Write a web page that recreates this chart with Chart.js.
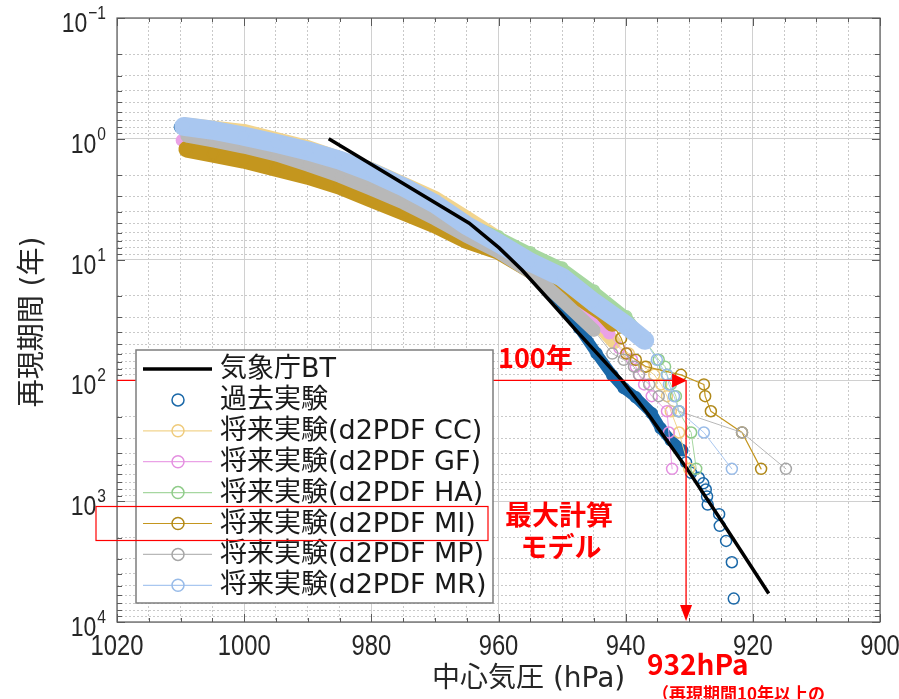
<!DOCTYPE html>
<html lang="ja">
<head>
<meta charset="utf-8">
<title>中心気圧と再現期間</title>
<script src="https://cdn.jsdelivr.net/npm/chart.js@4.4.1/dist/chart.umd.min.js"></script>
<style>
	html, body { margin: 0; padding: 0; background: #ffffff; }
	canvas { display: block; }
</style>
</head>
<body>
<canvas id="returnChart" width="899" height="699"></canvas>
<script>
// 気象庁BT (fitted curve)
const btPressure = [986.7, 964.6, 959.9, 956.3, 952.0, 947.8, 944.2, 940.6, 936.3, 930.5, 925.3, 917.5];
const btPeriod = [1.0, 5.0, 8.0, 12.2, 21.7, 38.5, 62, 100, 195, 525, 1360, 5800];

// 過去実験
const pastPressure = [1010.1, 1004.9, 1000.1, 995.0, 990.0, 985.0, 980.0, 974.9, 969.9, 965.1, 960.0, 955.0, 950.0, 947.3, 944.6, 942.1, 940.3, 938.4, 935.9, 934.5, 932.9, 931.1, 930.5, 929.7, 928.5, 927.8, 927.4, 927.2, 927.1, 925.3, 925.2, 924.2, 923.3, 923.0];
const pastPeriod = [0.80, 0.91, 1.04, 1.19, 1.42, 1.72, 2.16, 2.87, 3.97, 5.71, 8.36, 12.7, 23.0, 37.0, 59.6, 90.7, 116, 138, 187, 249, 313, 379, 477, 582, 640, 711, 800, 914, 1067, 1280, 1600, 2133, 3200, 6400];

// 将来実験 d2PDF
const ccPressure = [1009.3, 1000.1, 990.0, 980.0, 969.9, 965.1, 960.0, 955.0, 950.0, 946.5, 944.2, 941.8, 939.5, 937.1, 935.5, 934.4, 933.5, 932.9, 931.6, 930.0];
const ccPeriod = [0.76, 0.86, 1.17, 1.78, 3.10, 4.45, 6.65, 10.1, 17.9, 26.2, 35.0, 48.3, 60, 77, 90, 108, 135, 180, 270, 540];

const gfPressure = [1009.8, 1004.9, 1000.1, 990.0, 980.0, 969.9, 965.1, 960.0, 955.0, 950.0, 945.7, 942.6, 941.0, 939.9, 939.0, 938.4, 937.9, 937.1, 935.9, 933.5, 933.2, 932.7];
const gfPeriod = [1.03, 1.15, 1.29, 1.82, 2.82, 4.72, 6.40, 8.36, 12.2, 17.9, 27.8, 40.7, 54, 60, 67.5, 77, 90, 108, 135, 180, 270, 540];

const haPressure = [1009.0, 1000.1, 990.0, 980.0, 969.9, 965.1, 960.0, 955.0, 950.0, 945.0, 939.9, 937.0, 934.8, 933.8, 933.5, 932.9, 932.1, 931.7, 929.7, 928.9];
const haPeriod = [0.90, 1.04, 1.39, 2.12, 3.54, 4.90, 6.40, 8.69, 11.6, 18.0, 29.5, 46.6, 67.5, 77, 90, 108, 135, 180, 270, 540];

const miPressure = [1009.0, 1004.9, 1000.1, 995.0, 990.0, 985.0, 980.0, 974.9, 969.9, 965.1, 960.0, 955.0, 950.0, 946.8, 943.7, 942.1, 940.7, 939.9, 938.4, 936.8, 931.3, 927.7, 927.5, 926.6, 921.7, 918.7];
const miPeriod = [1.22, 1.34, 1.50, 1.75, 2.04, 2.47, 3.16, 4.05, 5.19, 6.91, 8.52, 12.2, 17.9, 21.3, 27.3, 33.7, 44.8, 60, 67.5, 77, 90, 108, 135, 180, 270, 540];

const mpPressure = [1009.0, 1004.9, 1000.1, 995.0, 990.0, 985.0, 980.0, 974.9, 969.9, 965.1, 960.0, 955.0, 950.0, 945.0, 942.1, 940.3, 938.7, 937.9, 936.3, 934.8, 931.6, 921.7, 914.8];
const mpPeriod = [0.95, 1.04, 1.17, 1.36, 1.65, 2.04, 2.61, 3.41, 4.63, 6.40, 8.69, 12.7, 21.7, 38.5, 60, 67.5, 77, 90, 108, 135, 180, 270, 540];

const mrPressure = [1009.5, 1004.9, 1000.1, 995.0, 990.0, 985.0, 980.0, 974.9, 969.9, 965.1, 960.0, 955.0, 950.0, 945.0, 939.9, 937.0, 935.1, 933.5, 933.2, 932.4, 931.6, 927.7, 923.3];
const mrPeriod = [0.79, 0.85, 0.95, 1.09, 1.26, 1.50, 1.89, 2.51, 3.48, 5.19, 7.31, 10.5, 14.0, 22.6, 35.0, 46.6, 67.5, 90, 108, 135, 180, 270, 540];

const seriesLabels = ["気象庁BT", "過去実験", "将来実験(d2PDF CC)", "将来実験(d2PDF GF)", "将来実験(d2PDF HA)", "将来実験(d2PDF MI)", "将来実験(d2PDF MP)", "将来実験(d2PDF MR)"];
const pressureTicks = [1020, 1000, 980, 960, 940, 920, 900];
const periodExponents = [-1, 0, 1, 2, 3, 4];

// red guide: 100-year level read down to the pressure axis
const markPeriod = 100;
const markPressure = 930.5;

const JP_FONT = '"DejaVu Sans", "Noto Sans CJK JP", sans-serif';
const NUM_FONT = '"Liberation Sans", Arial, sans-serif';
const RED = "#ff0000";
const AXIS_TEXT = "#262626";

const styles = {
	bt: { color: "#000000", width: 3.5 },
	past: { color: "#1a68a8", marker: "#1a68a8", bandMax: 400, bandWidth: 11, lineWidth: 0 },
	cc: { color: "#f2d48e", marker: "#efcb7c", bandMax: 50, bandWidth: 14, lineWidth: 1 },
	gf: { color: "#eaa2e6", marker: "#e48fe0", bandMax: 50, bandWidth: 11, lineWidth: 1 },
	ha: { color: "#a6d7a0", marker: "#90cc8a", bandMax: 50, bandWidth: 10, lineWidth: 1 },
	mi: { color: "#c4961e", marker: "#b08818", bandMax: 35, bandWidth: 17, lineWidth: 1.2 },
	mp: { color: "#b8b8b8", marker: "#a6a6a6", bandMax: 40, bandWidth: 13, lineWidth: 1 },
	mr: { color: "#a9c7f0", marker: "#98bbe8", bandMax: 50, bandWidth: 19, lineWidth: 1 }
};
const legendKeys = ["bt", "past", "cc", "gf", "ha", "mi", "mp", "mr"];

function toPoints(pressures, periods) {
	return pressures.map(function (p, i) {
		return { x: p, y: periods[i] };
	});
}

// dense part of each series is drawn as a wide stroke, the sparse tail as a thin line
function bandSegment(style) {
	return {
		borderWidth: function (ctx) {
			return ctx.p1.parsed.y <= style.bandMax ? style.bandWidth : Math.max(style.lineWidth, 1);
		},
		borderColor: function (ctx) {
			if (ctx.p1.parsed.y <= style.bandMax) {
				return style.color;
			}
			return style.lineWidth > 0 ? style.color : "rgba(0,0,0,0)";
		}
	};
}

function seriesDataset(label, pressures, periods, style, order) {
	return {
		label: label,
		data: toPoints(pressures, periods),
		borderColor: style.color,
		borderWidth: 1,
		borderCapStyle: "round",
		borderJoinStyle: "round",
		segment: bandSegment(style),
		pointRadius: 5.5,
		pointBorderWidth: 1.5,
		pointBorderColor: function (ctx) {
			return ctx.raw && ctx.raw.y <= style.bandMax ? style.color : style.marker;
		},
		pointBackgroundColor: "rgba(0,0,0,0)",
		tension: 0,
		order: order
	};
}

function isDecade(value) {
	const e = Math.log10(value);
	return Math.abs(e - Math.round(e)) < 1e-9;
}

function periodGridValues() {
	const values = [];
	const first = periodExponents[0];
	const last = periodExponents[periodExponents.length - 1];
	for (let e = first; e < last; e++) {
		for (let d = 1; d <= 9; d++) {
			values.push(Number((d * Math.pow(10, e)).toPrecision(4)));
		}
	}
	values.push(Math.pow(10, last));
	return values;
}

// numbers in the reference use a narrow face; squeeze a regular face horizontally
function narrowText(ctx, text, x, y, size, align) {
	const squeeze = 0.82;
	ctx.save();
	ctx.font = size + "px " + NUM_FONT;
	ctx.textBaseline = "alphabetic";
	ctx.textAlign = align;
	ctx.translate(x, y);
	ctx.scale(squeeze, 1);
	ctx.fillText(text, 0, 0);
	const width = ctx.measureText(text).width * squeeze;
	ctx.restore();
	return width;
}

function drawFrame(chart) {
	const ctx = chart.ctx;
	const area = chart.chartArea;
	const xScale = chart.scales.x;
	const yScale = chart.scales.y;

	ctx.save();
	ctx.strokeStyle = "#5a5a5a";
	ctx.lineWidth = 1;
	ctx.beginPath();
	yScale.ticks.forEach(function (tick) {
		const y = Math.round(yScale.getPixelForValue(tick.value)) + 0.5;
		const len = isDecade(tick.value) ? 8 : 5;
		ctx.moveTo(area.left, y);
		ctx.lineTo(area.left + len, y);
		ctx.moveTo(area.right, y);
		ctx.lineTo(area.right - len, y);
	});
	xScale.ticks.forEach(function (tick) {
		const x = Math.round(xScale.getPixelForValue(tick.value)) + 0.5;
		const len = tick.value % 20 === 0 ? 8 : 4;
		ctx.moveTo(x, area.bottom);
		ctx.lineTo(x, area.bottom - len);
		ctx.moveTo(x, area.top);
		ctx.lineTo(x, area.top + len);
	});
	ctx.stroke();
	ctx.lineWidth = 1.2;
	ctx.strokeRect(area.left, area.top, area.right - area.left, area.bottom - area.top);
	ctx.restore();
}

function drawTickLabels(chart) {
	const ctx = chart.ctx;
	const area = chart.chartArea;
	const xScale = chart.scales.x;
	const yScale = chart.scales.y;

	ctx.save();
	ctx.fillStyle = AXIS_TEXT;
	pressureTicks.forEach(function (value) {
		narrowText(ctx, String(value), xScale.getPixelForValue(value), area.bottom + 33, 29, "center");
	});

	const rightEdge = area.left - 11;
	periodExponents.forEach(function (exp) {
		const y = yScale.getPixelForValue(Math.pow(10, exp));
		const expText = exp < 0 ? "\u2212" + Math.abs(exp) : String(exp);
		const expWidth = narrowText(ctx, expText, rightEdge, y + 1, 19, "right");
		narrowText(ctx, "10", rightEdge - expWidth - 1, y + 14, 28, "right");
	});
	ctx.restore();
}

function drawAxisTitles(chart) {
	const ctx = chart.ctx;
	const area = chart.chartArea;

	ctx.save();
	ctx.fillStyle = AXIS_TEXT;
	ctx.font = "28px " + JP_FONT;
	ctx.textBaseline = "middle";
	ctx.textAlign = "left";
	ctx.fillText("中心気圧 (hPa)", 432, 680);

	ctx.translate(34, (area.top + area.bottom) / 2 + 2);
	ctx.rotate(-Math.PI / 2);
	ctx.textAlign = "center";
	ctx.fillText("再現期間 (年)", 0, 0);
	ctx.restore();
}

function drawRedGuide(chart) {
	const ctx = chart.ctx;
	const area = chart.chartArea;
	const x = chart.scales.x.getPixelForValue(markPressure);
	const y = chart.scales.y.getPixelForValue(markPeriod);

	ctx.save();
	ctx.strokeStyle = RED;
	ctx.fillStyle = RED;
	ctx.lineWidth = 1.3;
	ctx.beginPath();
	ctx.moveTo(area.left, y);
	ctx.lineTo(x - 14, y);
	ctx.moveTo(x, y);
	ctx.lineTo(x, area.bottom - 16);
	ctx.stroke();

	ctx.beginPath();
	ctx.moveTo(x + 1, y);
	ctx.lineTo(x - 14, y - 7);
	ctx.lineTo(x - 14, y + 7);
	ctx.closePath();
	ctx.fill();

	ctx.beginPath();
	ctx.moveTo(x, area.bottom - 1);
	ctx.lineTo(x - 6, area.bottom - 17);
	ctx.lineTo(x + 6, area.bottom - 17);
	ctx.closePath();
	ctx.fill();
	ctx.restore();
}

function drawLegendBox(chart) {
	const ctx = chart.ctx;
	const box = { left: 136, top: 350, width: 357, height: 253 };
	const rowStart = box.top + 19;
	const rowStep = 30.9;

	ctx.save();
	ctx.fillStyle = "#ffffff";
	ctx.fillRect(box.left, box.top, box.width, box.height);
	ctx.strokeStyle = "#7d7d7d";
	ctx.lineWidth = 1.5;
	ctx.strokeRect(box.left, box.top, box.width, box.height);

	chart.data.datasets.forEach(function (dataset, index) {
		const y = rowStart + index * rowStep;
		const key = legendKeys[index];
		const style = styles[key];

		if (key === "bt") {
			ctx.strokeStyle = style.color;
			ctx.lineWidth = style.width;
			ctx.beginPath();
			ctx.moveTo(143, y);
			ctx.lineTo(212, y);
			ctx.stroke();
		} else {
			if (style.lineWidth > 0) {
				ctx.strokeStyle = style.color;
				ctx.lineWidth = 1.2;
				ctx.beginPath();
				ctx.moveTo(143, y);
				ctx.lineTo(212, y);
				ctx.stroke();
			}
			ctx.strokeStyle = style.marker;
			ctx.lineWidth = 1.5;
			ctx.beginPath();
			ctx.arc(178, y, 6, 0, Math.PI * 2);
			ctx.stroke();
		}

		ctx.fillStyle = "#1a1a1a";
		ctx.font = "27px " + JP_FONT;
		ctx.textAlign = "left";
		ctx.textBaseline = "middle";
		ctx.fillText(dataset.label, 220, y + 1);
	});

	// highlight the MI row
	const miRow = rowStart + legendKeys.indexOf("mi") * rowStep;
	ctx.strokeStyle = RED;
	ctx.lineWidth = 1.2;
	ctx.strokeRect(96, miRow - 17, 392, 34);
	ctx.restore();
}

function drawNotes(chart) {
	const ctx = chart.ctx;
	ctx.save();
	ctx.fillStyle = RED;
	ctx.textAlign = "left";
	ctx.textBaseline = "alphabetic";
	ctx.font = 'bold 27px "Noto Sans CJK JP", sans-serif';
	ctx.fillText("100年", 498, 368);

	ctx.textAlign = "center";
	ctx.textBaseline = "middle";
	ctx.fillText("最大計算", 559, 515);
	ctx.fillText("モデル", 561, 547);

	ctx.textAlign = "left";
	ctx.textBaseline = "alphabetic";
	ctx.font = 'bold 28px "Noto Sans CJK JP", sans-serif';
	ctx.fillText("932hPa", 647, 675);
	ctx.font = 'bold 17px "Noto Sans CJK JP", sans-serif';
	ctx.fillText("（再現期間10年以上の", 652, 700);
	ctx.restore();
}

const overlayPlugin = {
	id: "overlay",
	afterDraw: function (chart) {
		drawFrame(chart);
		drawRedGuide(chart);
		drawLegendBox(chart);
		drawNotes(chart);
		drawTickLabels(chart);
		drawAxisTitles(chart);
	}
};

// lower order is painted on top
const datasets = [
	{
		label: seriesLabels[0],
		data: toPoints(btPressure, btPeriod),
		borderColor: styles.bt.color,
		borderWidth: styles.bt.width,
		pointRadius: 0,
		tension: 0,
		order: 0
	},
	seriesDataset(seriesLabels[1], pastPressure, pastPeriod, styles.past, 7),
	seriesDataset(seriesLabels[2], ccPressure, ccPeriod, styles.cc, 6),
	seriesDataset(seriesLabels[3], gfPressure, gfPeriod, styles.gf, 5),
	seriesDataset(seriesLabels[4], haPressure, haPeriod, styles.ha, 4),
	seriesDataset(seriesLabels[5], miPressure, miPeriod, styles.mi, 3),
	seriesDataset(seriesLabels[6], mpPressure, mpPeriod, styles.mp, 2),
	seriesDataset(seriesLabels[7], mrPressure, mrPeriod, styles.mr, 1)
];

new Chart(document.getElementById("returnChart"), {
	type: "line",
	data: { datasets: datasets },
	plugins: [overlayPlugin],
	options: {
		responsive: false,
		animation: false,
		events: [],
		layout: {
			padding: { top: 18, right: 19, left: 0, bottom: 0 }
		},
		plugins: {
			legend: { display: false },
			tooltip: { enabled: false }
		},
		scales: {
			x: {
				type: "linear",
				min: 900,
				max: 1020,
				reverse: true,
				ticks: { display: false, stepSize: 5, autoSkip: false },
				grid: {
					drawTicks: false,
					lineWidth: 1,
					color: function (context) {
						return context.tick && context.tick.value % 20 === 0 ? "#d0d0d0" : "#c9c9c9";
					}
				},
				border: {
					display: false,
					dash: function (context) {
						return context.tick && context.tick.value % 20 !== 0 ? [2, 2] : [];
					}
				},
				afterFit: function (scale) {
					scale.height = 77;
				}
			},
			y: {
				type: "logarithmic",
				min: 0.1,
				max: 10000,
				reverse: true,
				afterBuildTicks: function (scale) {
					scale.ticks = periodGridValues().map(function (v) {
						return { value: v };
					});
				},
				ticks: { display: false, autoSkip: false },
				grid: {
					drawTicks: false,
					lineWidth: 1,
					color: function (context) {
						return context.tick && isDecade(context.tick.value) ? "#d0d0d0" : "#c9c9c9";
					}
				},
				border: {
					display: false,
					dash: function (context) {
						return context.tick && !isDecade(context.tick.value) ? [2, 2] : [];
					}
				},
				afterFit: function (scale) {
					scale.width = 117;
				}
			}
		}
	}
});
</script>
</body>
</html>
